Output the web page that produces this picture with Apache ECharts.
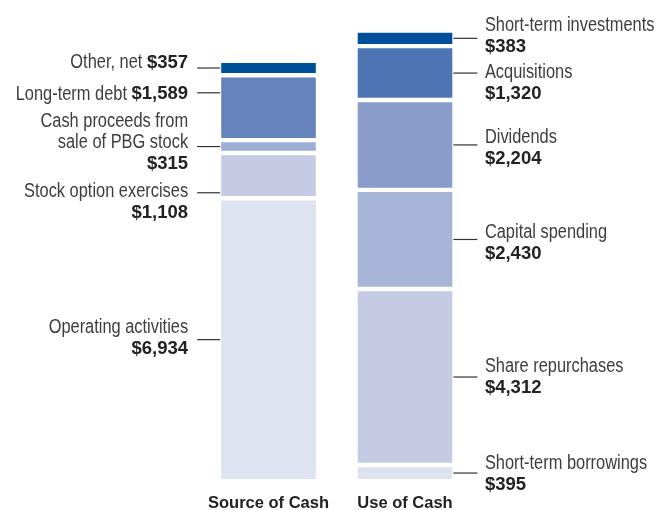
<!DOCTYPE html>
<html>
<head>
<meta charset="utf-8">
<script src="https://cdn.jsdelivr.net/npm/echarts@6/dist/echarts.min.js"></script>
<style>
html,body{margin:0;padding:0;background:#fff;}
#chart{width:657px;height:510px;}
</style>
</head>
<body>
<div id="chart"></div>
<script>
// ---- data ----
const categories = ['Source of Cash', 'Use of Cash'];
const sourceNames = ['Operating activities', 'Stock option exercises', 'Cash proceeds from\nsale of PBG stock', 'Long-term debt', 'Other, net'];
const sourceValues = [6934, 1108, 315, 1589, 357];
const useNames = ['Short-term borrowings', 'Share repurchases', 'Capital spending', 'Dividends', 'Acquisitions', 'Short-term investments'];
const useValues = [395, 4312, 2430, 2204, 1320, 383];

// ---- styles ----
const sourceColors = ['#dde3f1', '#c5cbe5', '#9dadd6', '#6783bd', '#004f9a'];
const useColors = ['#dde3f1', '#c5cbe5', '#a7b5d9', '#8a9cca', '#4e74b3', '#004f9a'];
const sourceAnchor = [0.5, 0.12, 0.5, 0.73, 0.5];   // leader position within segment
const useAnchor = [0.5, 0.5, 0.5, 0.5, 0.5, 0.5];
const sourceTextDy = [-12.2, -1.7, -25.4, 1.4, -5.5]; // first text line centre vs leader
const useTextDy = [-9.6, -10.5, -7.3, -7.3, -0.5, -13];
const sourceInline = [false, false, false, true, true];

const BAR_W = 99, BORDER = 2.2;
const REG = '"Liberation Sans", Arial, sans-serif';
const BOLD = '"Liberation Sans", Arial, sans-serif';
const REG_SIZE = 20, BOLD_SIZE = 18.5, NARROW = 0.82;
const LH = 21.5;

const chart = echarts.init(document.getElementById('chart'), null, {renderer: 'canvas'});

const series = [];
sourceValues.forEach((v, i) => {
  series.push({
    type: 'bar', stack: 'cash', name: sourceNames[i], barWidth: BAR_W,
    data: [v, '-'],
    itemStyle: {color: sourceColors[i], borderColor: '#fff', borderWidth: BORDER},
    silent: true, animation: false
  });
});
useValues.forEach((v, i) => {
  series.push({
    type: 'bar', stack: 'cash', name: useNames[i], barWidth: BAR_W,
    data: ['-', v],
    itemStyle: {color: useColors[i], borderColor: '#fff', borderWidth: BORDER},
    silent: true, animation: false
  });
});

chart.setOption({
  animation: false,
  grid: {left: 200.25, width: 273, top: 22.1, height: 459, containLabel: false, outerBoundsMode: 'none'},
  xAxis: {
    type: 'category', data: categories,
    axisLine: {show: false}, axisTick: {show: false},
    axisLabel: {interval: 0, hideOverlap: false, margin: 14, color: '#222', fontFamily: BOLD, fontWeight: 'bold', fontSize: 16.5}
  },
  yAxis: {type: 'value', min: 0, max: 11250, show: false, splitLine: {show: false}},
  series: series
});

function fmt(v) { return '$' + v.toLocaleString('en-US'); }
const mctx = document.createElement('canvas').getContext('2d');
function boldWidth(s) { mctx.font = 'bold ' + BOLD_SIZE + 'px ' + BOLD; return mctx.measureText(s).width; }
function regWidth(s) { mctx.font = REG_SIZE + 'px ' + REG; return mctx.measureText(s).width * NARROW; }

const graphics = [];
function addLabels(catIdx, names, values, anchors, textDy, inline, side) {
  const cx = chart.convertToPixel({xAxisIndex: 0}, catIdx);
  const half = (BAR_W - BORDER) / 2;
  let base = 0;
  values.forEach((v, i) => {
    const ly = chart.convertToPixel({yAxisIndex: 0}, base + anchors[i] * v);
    base += v;
    let x1, x2, tx, align;
    if (side === 'left') {
      x2 = cx - half; x1 = x2 - 23; tx = x2 - 32; align = 'right';
    } else {
      x1 = cx + half; x2 = x1 + 24; tx = x1 + 31.5; align = 'left';
    }
    graphics.push({type: 'line', z: 100, shape: {x1: x1, y1: ly, x2: x2, y2: ly},
      style: {stroke: '#333', lineWidth: 1.2}, silent: true});
    const lines = names[i].split('\n');
    const firstC = ly + textDy[i];
    const valStr = fmt(v);
    let nameX = tx, valX = tx, valC;
    if (inline && inline[i]) {
      valC = firstC + (lines.length - 1) * LH;
      if (align === 'right') nameX = tx - boldWidth(valStr) - regWidth(' ');
      else valX = tx + regWidth(lines[lines.length - 1] + ' ');
    } else {
      valC = firstC + lines.length * LH;
    }
    graphics.push({type: 'text', z: 100, x: nameX, y: firstC - LH / 2, scaleX: NARROW, silent: true,
      style: {text: names[i], fontFamily: REG, fontSize: REG_SIZE, fill: '#3d3d3d', lineHeight: LH,
              align: align, verticalAlign: 'top'}});
    graphics.push({type: 'text', z: 100, x: valX, y: valC - LH / 2, silent: true,
      style: {text: valStr, fontFamily: BOLD, fontSize: BOLD_SIZE, fontWeight: 'bold', fill: '#222', lineHeight: LH,
              align: align, verticalAlign: 'top'}});
  });
}
addLabels(0, sourceNames, sourceValues, sourceAnchor, sourceTextDy, sourceInline, 'left');
addLabels(1, useNames, useValues, useAnchor, useTextDy, null, 'right');

chart.setOption({graphic: graphics});
</script>
</body>
</html>
